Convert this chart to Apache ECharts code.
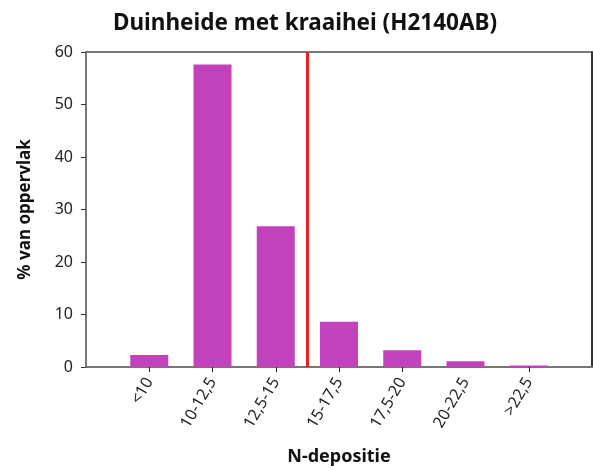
<!DOCTYPE html>
<html>
<head>
<meta charset="utf-8">
<script src="https://cdn.jsdelivr.net/npm/echarts@6/dist/echarts.min.js"></script>
<style>
  html, body { margin: 0; padding: 0; background: #fff; }
  #chart { width: 593px; height: 470px; }
</style>
</head>
<body>
<div id="chart"></div>
<script>
// deposition classes (positions 1..7 on the x axis)
const categories = ["<10", "10-12,5", "12,5-15", "15-17,5", "17,5-20", "20-22,5", ">22,5"];
const percentages = [2.3, 57.6, 26.8, 8.6, 3.2, 1.1, 0.3];
const criticalLoad = 3.5; // red line, between 12,5-15 and 15-17,5
const yTicks = [0, 10, 20, 30, 40, 50, 60];
const hiddenTick = "20-22,5"; // the original has no tick mark under this class

const myChart = echarts.init(document.getElementById("chart"));
const font = "'Noto Sans', 'Open Sans', sans-serif";
const tickPositions = categories
  .map((c, i) => (c === hiddenTick ? null : i + 1))
  .filter((v) => v !== null);

const option = {
  animation: false,
  title: {
    text: "Duinheide met kraaihei (H2140AB)",
    left: 300,
    textAlign: "center",
    top: 7,
    textStyle: { fontFamily: font, fontSize: 22.5, fontWeight: "bold", color: "#111" },
  },
  grid: { left: 86, right: 1, top: 52, bottom: 103, show: false, outerBoundsMode: "none", containLabel: false },
  xAxis: {
    type: "value",
    min: 0,
    max: categories.length + 1,
    interval: 1,
    name: "N-depositie",
    nameLocation: "middle",
    nameGap: 81,
    nameTextStyle: { fontFamily: font, fontSize: 18, fontWeight: "bold", color: "#111" },
    axisLine: { show: true, lineStyle: { color: "#777", width: 2 } },
    axisTick: {
      show: true,
      length: 5,
      customValues: tickPositions,
      lineStyle: { color: "#222" },
    },
    splitLine: { show: false },
    axisLabel: {
      rotate: 60,
      margin: 12,
      fontFamily: font,
      fontSize: 16,
      color: "#222",
      formatter: (v) => categories[v - 1] || "",
    },
  },
  yAxis: [
    {
      type: "value",
      min: yTicks[0],
      max: yTicks[yTicks.length - 1],
      interval: 10,
      name: "% van oppervlak",
      nameLocation: "middle",
      nameGap: 52,
      nameTextStyle: { fontFamily: font, fontSize: 17, fontWeight: "bold", color: "#111" },
      axisLine: { show: true, lineStyle: { color: "#777", width: 2 } },
      axisTick: { show: true, length: 5, lineStyle: { color: "#333" } },
      splitLine: { show: false },
      axisLabel: { margin: 13, fontFamily: font, fontSize: 16, color: "#222" },
    },
    {
      // right border of the frame
      type: "value",
      position: "right",
      min: 0,
      max: 60,
      axisLine: { show: true, lineStyle: { color: "#333", width: 2 } },
      axisTick: { show: false },
      axisLabel: { show: false },
      splitLine: { show: false },
    },
  ],
  series: [
    {
      type: "bar",
      barWidth: 38,
      itemStyle: { color: "#C242BC" },
      data: percentages.map((p, i) => [i + 1, p]),
      markLine: {
        silent: true,
        symbol: "none",
        label: { show: false },
        lineStyle: { color: "#E82020", width: 3, type: "solid" },
        data: [{ xAxis: criticalLoad }],
      },
    },
  ],
  graphic: [
    // top border of the frame
    { type: "line", shape: { x1: 86, y1: 52, x2: 592, y2: 52 }, style: { stroke: "#777", lineWidth: 2 } },
  ],
};

option && myChart.setOption(option);
</script>
</body>
</html>
